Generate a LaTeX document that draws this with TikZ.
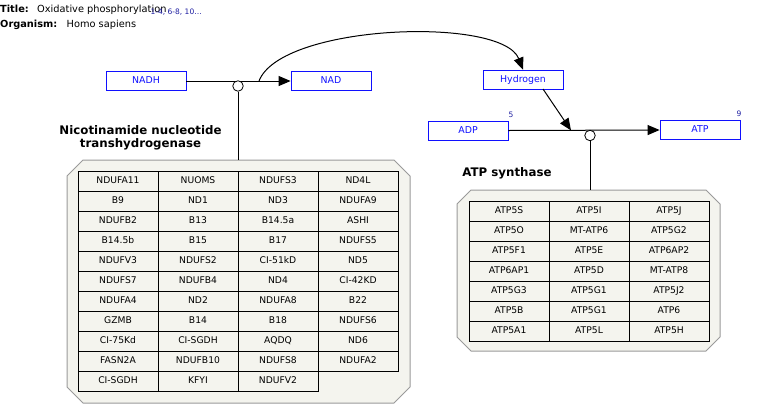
\documentclass[tikz,border=0pt]{standalone}
\usepackage{fontspec}
\setmainfont{DejaVu Sans}
\usetikzlibrary{arrows.meta}
\definecolor{groupfill}{HTML}{F4F4EE}
\definecolor{groupedge}{HTML}{9A9A9A}
\definecolor{refblue}{HTML}{1C1CA0}
\definecolor{metablue}{HTML}{1010FF}
\begin{document}
\begin{tikzpicture}[x=1pt,y=-1pt,
  metabox/.style={draw=metablue, text=metablue, line width=0.8pt,
    minimum width=80pt, minimum height=19pt, inner sep=0pt,
    text height=7pt, text depth=1.5pt,
    font=\fontsize{9.4}{10}\selectfont},
  cellbox/.style={draw=black, line width=0.8pt, minimum width=80pt,
    minimum height=20pt, inner sep=0pt, text height=7pt, text depth=1.5pt,
    font=\fontsize{9.2}{10}\selectfont},
  anchorpt/.style={circle, draw=black, fill=white, minimum size=10.5pt,
    inner sep=0pt, line width=0.8pt},
  flow/.style={line width=1pt, -{Triangle[length=12pt,width=10pt]}},
  plainline/.style={line width=1pt},
  grouplabel/.style={font=\fontsize{11.8}{12.5}\selectfont\bfseries, align=center},
  headtext/.style={anchor=base west, inner sep=0pt, font=\fontsize{9.8}{11}\selectfont},
  refnum/.style={text=refblue, inner sep=0pt, font=\fontsize{7.5}{8}\selectfont},
  groupshape/.style={draw=groupedge, fill=groupfill, line width=1pt}
]
\useasboundingbox (0,0) rectangle (759,418);

% header
\node[headtext, font=\fontsize{9.8}{11}\selectfont\bfseries] (titlekey) at (0,12) {Title:};
\node[headtext] (titleval) at (37,12) {Oxidative phosphorylation};
\node[refnum, anchor=base west] (titlerefs) at (150.5,14.5) {1-4, 6-8, 10…};
\node[headtext, font=\fontsize{9.8}{11}\selectfont\bfseries] (orgkey) at (0,27) {Organism:};
\node[headtext] (orgval) at (66.5,27) {Homo sapiens};

% group frames
\draw[groupshape] (67,176) -- (83,160) -- (394,160) -- (410,176) -- (410,387)
  -- (394,403) -- (83,403) -- (67,387) -- cycle;
\draw[groupshape] (457,204) -- (471,190) -- (706,190) -- (720,204) -- (720,337)
  -- (706,351) -- (471,351) -- (457,337) -- cycle;
\coordinate (grpA-top) at (238,160);
\coordinate (grpB-top) at (590,190);

\node[grouplabel] (grpA-label) at (140.5,138) {Nicotinamide nucleotide\\transhydrogenase};
\node[grouplabel] (grpB-label) at (507,173) {ATP synthase};

% complex I / transhydrogenase members
\foreach \name [count=\i from 0] in {
  NDUFA11,NUOMS,NDUFS3,ND4L,
  B9,ND1,ND3,NDUFA9,
  NDUFB2,B13,B14.5a,ASHI,
  B14.5b,B15,B17,NDUFS5,
  NDUFV3,NDUFS2,CI-51kD,ND5,
  NDUFS7,NDUFB4,ND4,CI-42KD,
  NDUFA4,ND2,NDUFA8,B22,
  GZMB,B14,B18,NDUFS6,
  CI-75Kd,CI-SGDH,AQDQ,ND6,
  FASN2A,NDUFB10,NDUFS8,NDUFA2,
  CI-SGDH,KFYI,NDUFV2}
{
  \pgfmathtruncatemacro{\r}{int(\i/4)}
  \pgfmathtruncatemacro{\c}{mod(\i,4)}
  \node[cellbox] (cellA-\i) at (118+80*\c, 181+20*\r) {\name};
}

% ATP synthase members
\foreach \name [count=\i from 0] in {
  ATP5S,ATP5I,ATP5J,
  ATP5O,MT-ATP6,ATP5G2,
  ATP5F1,ATP5E,ATP6AP2,
  ATP6AP1,ATP5D,MT-ATP8,
  ATP5G3,ATP5G1,ATP5J2,
  ATP5B,ATP5G1,ATP6,
  ATP5A1,ATP5L,ATP5H}
{
  \pgfmathtruncatemacro{\r}{int(\i/3)}
  \pgfmathtruncatemacro{\c}{mod(\i,3)}
  \node[cellbox] (cellB-\i) at (509+80*\c, 211+20*\r) {\name};
}

% metabolites
\node[metabox] (nadh) at (146,81) {NADH};
\node[metabox] (nad) at (331,81) {NAD};
\node[metabox] (hydrogen) at (523,79.5) {Hydrogen};
\node[metabox] (adp) at (468,130.5) {ADP};
\node[metabox] (atp) at (700,130) {ATP};
\node[refnum] (adp-ref) at (511,115) {5};
\node[refnum] (atp-ref) at (739,113.5) {9};

% reaction: NADH -> NAD, releasing hydrogen
\draw[flow] (nadh.east) -- (nad.west);
\coordinate (branch1) at (259,81);
\draw[flow] (branch1) .. controls (281,24) and (502,16) .. (hydrogen.north);
\node[anchorpt] (rxnA) at (238,86) {};
\draw[plainline] (rxnA.south) -- (grpA-top);

% reaction: ADP -> ATP, driven by hydrogen
\draw[flow] (adp.east) -- (atp.west);
\coordinate (h-out) at (543,89);
\coordinate (junction2) at (571,130.4);
\draw[flow] (h-out) -- (junction2);
\node[anchorpt] (rxnB) at (590,135.5) {};
\draw[plainline] (rxnB.south) -- (grpB-top);
\end{tikzpicture}
\end{document}
